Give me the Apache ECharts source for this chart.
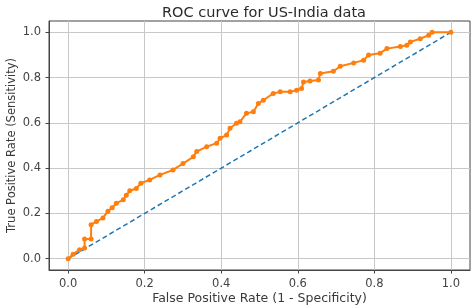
<!DOCTYPE html>
<html lang="en">

<head>
  <meta charset="UTF-8">
  <title>ROC curve</title>
  <script src="https://cdn.jsdelivr.net/npm/echarts@6/dist/echarts.min.js"></script>
  <style>
    * {
      padding: 0;
      margin: 0;
    }

    #box {
      width: 473px;
      height: 306px;
      background: #fff;
    }
  </style>
</head>

<body>
  <div id="box"></div>
  <script>
    // ROC points
    var fpr = [0, 0.013, 0.03, 0.043, 0.043, 0.06, 0.06, 0.074, 0.091, 0.104, 0.115, 0.126, 0.144, 0.152,
      0.161, 0.178, 0.19, 0.213, 0.24, 0.274, 0.30, 0.327, 0.336, 0.362, 0.388, 0.397, 0.414, 0.423, 0.44,
      0.449, 0.466, 0.484, 0.497, 0.51, 0.536, 0.554, 0.58, 0.597, 0.61, 0.615, 0.632, 0.654, 0.659, 0.693,
      0.711, 0.746, 0.772, 0.785, 0.815, 0.833, 0.868, 0.885, 0.894, 0.92, 0.942, 0.951, 1.0]
    var tpr = [0, 0.02, 0.04, 0.047, 0.087, 0.087, 0.15, 0.164, 0.18, 0.21, 0.225, 0.245, 0.26, 0.28,
      0.30, 0.31, 0.333, 0.348, 0.37, 0.392, 0.42, 0.45, 0.473, 0.495, 0.51, 0.532, 0.546, 0.576, 0.598,
      0.605, 0.642, 0.649, 0.686, 0.70, 0.73, 0.737, 0.737, 0.744, 0.752, 0.781, 0.785, 0.789, 0.818, 0.828,
      0.85, 0.865, 0.877, 0.9, 0.908, 0.928, 0.937, 0.943, 0.957, 0.972, 0.987, 1.0, 1.0]
    var diagonal = [[0, 0], [1, 1]]
    var ticks = [0, 0.2, 0.4, 0.6, 0.8, 1.0]

    var rocData = []
    for (let i = 0; i < fpr.length; i++) {
      rocData.push([fpr[i], tpr[i]])
    }

    function axisOpt(name, gap, nameSize) {
      return {
        type: 'value',
        min: -0.05,
        max: 1.05,
        name: name,
        nameLocation: 'middle',
        nameGap: gap,
        nameMoveOverlap: false,
        nameTextStyle: { color: '#3a3a3a', fontSize: nameSize, fontFamily: 'DejaVu Sans' },
        axisLine: { show: true, onZero: false, lineStyle: { color: '#444', width: 1 } },
        axisTick: { show: true, length: 3.5, customValues: ticks, lineStyle: { color: '#444' } },
        axisLabel: {
          customValues: ticks, color: '#444', fontSize: 11.5, fontFamily: 'DejaVu Sans',
          formatter: function (v) { return v.toFixed(1) }
        },
        splitLine: { show: true, lineStyle: { color: '#c8c8c8', width: 1 } }
      }
    }

    var mCharts = echarts.init(document.getElementById('box'))
    var yAx = axisOpt('True Positive Rate (Sensitivity)', 31, 11.5)
    yAx.nameRotate = 90
    yAx.axisLabel.margin = 8
    var xAx = axisOpt('False Positive Rate (1 - Specificity)', 22, 12.5)
    xAx.axisLabel.margin = 8
    var option = {
      animation: false,
      title: {
        text: 'ROC curve for US-India data',
        left: 259,
        textAlign: 'center',
        top: 1,
        textStyle: { fontSize: 14.5, fontWeight: 'normal', color: '#2a2a2a', fontFamily: 'DejaVu Sans' }
      },
      grid: {
        left: 49, right: 3, top: 21, bottom: 36,
        outerBoundsMode: 'none',
        containLabel: false,
        show: true, borderColor: '#444', borderWidth: 1
      },
      xAxis: xAx,
      yAxis: yAx,
      series: [{
        type: 'line',
        data: diagonal,
        symbol: 'none',
        lineStyle: { color: '#1f77b4', width: 1.5, type: [5, 3] },
        z: 2
      }, {
        type: 'line',
        data: rocData,
        symbol: 'circle',
        symbolSize: 5,
        itemStyle: { color: '#ff7f0e' },
        lineStyle: { color: '#ff7f0e', width: 2 },
        z: 3
      }]
    }
    mCharts.setOption(option)
  </script>
</body>

</html>
